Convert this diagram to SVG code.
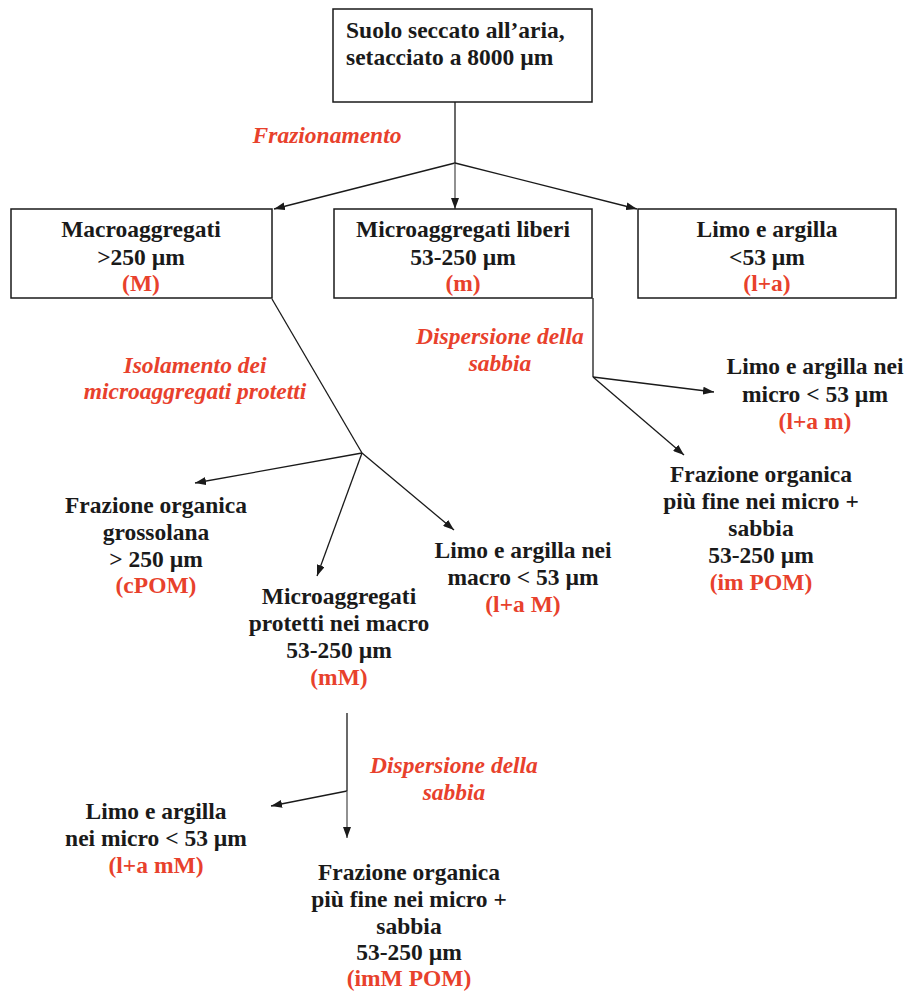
<svg xmlns="http://www.w3.org/2000/svg" width="907" height="994" viewBox="0 0 907 994">
<style>
text{font-family:'Liberation Serif','Times New Roman',serif}
.t{font-weight:bold;font-size:23.5px;fill:#1a1a1a;text-anchor:middle}
.l{text-anchor:start}
.r{fill:#E8412C}
.i{font-weight:bold;font-style:italic;font-size:23.5px;fill:#E8412C;text-anchor:middle}
.box{fill:#fff;stroke:#1a1a1a;stroke-width:1.5}
.c{stroke:#1a1a1a;stroke-width:1.3;fill:none}
.g{stroke:#555}
.a{marker-end:url(#ah)}
</style>
<defs>
<marker id="ah" markerUnits="userSpaceOnUse" markerWidth="12" markerHeight="8" refX="11" refY="4" orient="auto">
<path d="M0,0 L11,4 L0,8 z" fill="#1a1a1a"/>
</marker>
</defs>
<rect width="907" height="994" fill="#fff"/>
<g id="connectors">
<path class="c" d="M455,102 V163"/>
<path class="c a" d="M455,163 L274,209"/>
<path class="c g a" d="M455,163 V209"/>
<path class="c a" d="M455,163 L637,209"/>
<path class="c" d="M272,299 L362,453"/>
<path class="c a" d="M362,453 L195,483"/>
<path class="c a" d="M362,453 L317,576"/>
<path class="c a" d="M362,453 L454,530"/>
<path class="c" d="M593,298 V377"/>
<path class="c a" d="M593,377 L714,392"/>
<path class="c a" d="M593,377 L684,455"/>
<path class="c" d="M347,713 V791"/>
<path class="c a" d="M347,791 L271,806"/>
<path class="c g a" d="M347,791 V838"/>
</g>
<g id="n-suolo">
<rect class="box" x="333" y="9" width="259" height="93"/>
<text class="t l" x="346" y="38">Suolo seccato all’aria,</text>
<text class="t l" x="346" y="65">setacciato a 8000 µm</text>
</g>
<g id="lbl-frazionamento">
<text class="i" x="327" y="143">Frazionamento</text>
</g>
<g id="n-macro">
<rect class="box" x="11" y="209" width="261" height="89"/>
<text class="t" x="141" y="237">Macroaggregati</text>
<text class="t" x="141" y="265">&gt;250 µm</text>
<text class="t r" x="141" y="291">(M)</text>
</g>
<g id="n-micro">
<rect class="box" x="334" y="209" width="258" height="89"/>
<text class="t" x="463" y="237">Microaggregati liberi</text>
<text class="t" x="463" y="265">53-250 µm</text>
<text class="t r" x="463" y="291">(m)</text>
</g>
<g id="n-limo">
<rect class="box" x="638" y="209" width="258" height="89"/>
<text class="t" x="767" y="237">Limo e argilla</text>
<text class="t" x="767" y="265">&lt;53 µm</text>
<text class="t r" x="767" y="291">(l+a)</text>
</g>
<g id="lbl-isolamento">
<text class="i" x="195" y="373">Isolamento dei</text>
<text class="i" x="195" y="399">microaggregati protetti</text>
</g>
<g id="lbl-dispersione1">
<text class="i" x="500" y="344">Dispersione della</text>
<text class="i" x="500" y="371">sabbia</text>
</g>
<g id="n-lam">
<text class="t" x="815" y="374">Limo e argilla nei</text>
<text class="t" x="815" y="402">micro &lt; 53 µm</text>
<text class="t r" x="815" y="429">(l+a m)</text>
</g>
<g id="n-impom">
<text class="t" x="761" y="482">Frazione organica</text>
<text class="t" x="761" y="509">più fine nei micro +</text>
<text class="t" x="761" y="536">sabbia</text>
<text class="t" x="761" y="563">53-250 µm</text>
<text class="t r" x="761" y="590">(im POM)</text>
</g>
<g id="n-cpom">
<text class="t" x="156" y="513">Frazione organica</text>
<text class="t" x="156" y="540">grossolana</text>
<text class="t" x="156" y="567">&gt; 250 µm</text>
<text class="t r" x="156" y="593">(cPOM)</text>
</g>
<g id="n-lamacro">
<text class="t" x="523" y="558">Limo e argilla nei</text>
<text class="t" x="523" y="585">macro &lt; 53 µm</text>
<text class="t r" x="523" y="612">(l+a M)</text>
</g>
<g id="n-mm">
<text class="t" x="339" y="604">Microaggregati</text>
<text class="t" x="339" y="631">protetti nei macro</text>
<text class="t" x="339" y="658">53-250 µm</text>
<text class="t r" x="339" y="685">(mM)</text>
</g>
<g id="lbl-dispersione2">
<text class="i" x="454" y="773">Dispersione della</text>
<text class="i" x="454" y="800">sabbia</text>
</g>
<g id="n-lamm">
<text class="t" x="156" y="819">Limo e argilla</text>
<text class="t" x="156" y="846">nei micro &lt; 53 µm</text>
<text class="t r" x="156" y="873">(l+a mM)</text>
</g>
<g id="n-immpom">
<text class="t" x="409" y="880">Frazione organica</text>
<text class="t" x="409" y="907">più fine nei micro +</text>
<text class="t" x="409" y="934">sabbia</text>
<text class="t" x="409" y="960">53-250 µm</text>
<text class="t r" x="409" y="986">(imM POM)</text>
</g>
</svg>
